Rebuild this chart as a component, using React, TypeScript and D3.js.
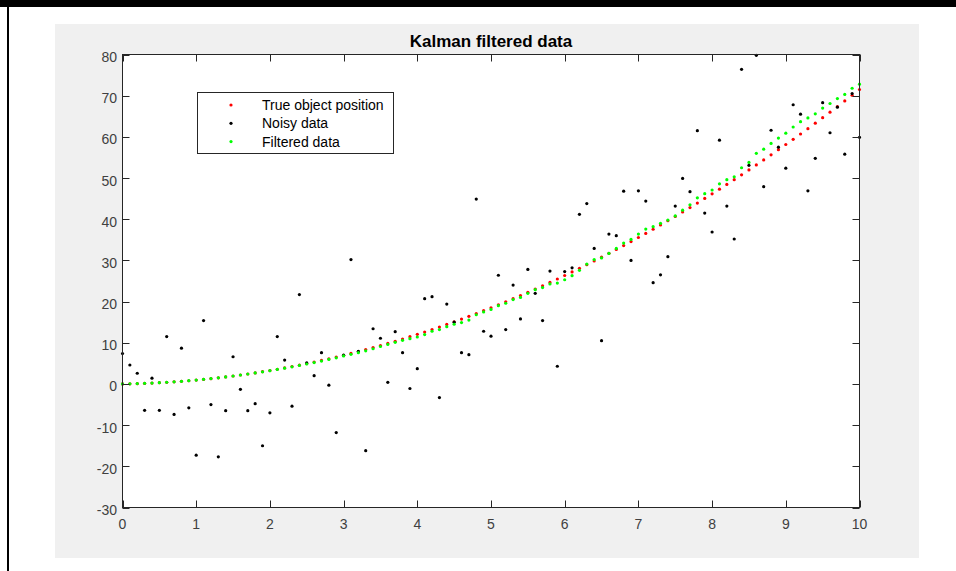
import * as d3 from 'd3'

// sample times (s)
const timeSteps = [
  0, 0.1, 0.2, 0.3, 0.4, 0.5, 0.6, 0.7, 0.8, 0.9,
  1, 1.1, 1.2, 1.3, 1.4, 1.5, 1.6, 1.7, 1.8, 1.9,
  2, 2.1, 2.2, 2.3, 2.4, 2.5, 2.6, 2.7, 2.8, 2.9,
  3, 3.1, 3.2, 3.3, 3.4, 3.5, 3.6, 3.7, 3.8, 3.9,
  4, 4.1, 4.2, 4.3, 4.4, 4.5, 4.6, 4.7, 4.8, 4.9,
  5, 5.1, 5.2, 5.3, 5.4, 5.5, 5.6, 5.7, 5.8, 5.9,
  6, 6.1, 6.2, 6.3, 6.4, 6.5, 6.6, 6.7, 6.8, 6.9,
  7, 7.1, 7.2, 7.3, 7.4, 7.5, 7.6, 7.7, 7.8, 7.9,
  8, 8.1, 8.2, 8.3, 8.4, 8.5, 8.6, 8.7, 8.8, 8.9,
  9, 9.1, 9.2, 9.3, 9.4, 9.5, 9.6, 9.7, 9.8, 9.9,
  10,
]

const truePosition = [
  0, 0.03, 0.08, 0.14, 0.21, 0.3, 0.4, 0.51, 0.64, 0.78,
  0.94, 1.11, 1.29, 1.49, 1.7, 1.93, 2.17, 2.42, 2.69, 2.97,
  3.26, 3.57, 3.89, 4.23, 4.57, 4.94, 5.31, 5.71, 6.11, 6.53,
  6.96, 7.41, 7.87, 8.34, 8.83, 9.33, 9.84, 10.37, 10.91, 11.47,
  12.04, 12.62, 13.22, 13.83, 14.46, 15.1, 15.75, 16.42, 17.1, 17.79,
  18.5, 19.22, 19.96, 20.71, 21.47, 22.25, 23.04, 23.84, 24.66, 25.49,
  26.34, 27.2, 28.07, 28.96, 29.86, 30.78, 31.71, 32.65, 33.61, 34.58,
  35.56, 36.56, 37.57, 38.6, 39.63, 40.69, 41.75, 42.84, 43.93, 45.04,
  46.16, 47.3, 48.45, 49.61, 50.79, 51.98, 53.18, 54.4, 55.63, 56.88,
  58.14, 59.41, 60.7, 62.0, 63.32, 64.65, 65.99, 67.35, 68.72, 70.1,
  71.5,
]

const noisyData = [
  7.4, 4.6, 2.6, -6.4, 1.4, -6.4, 11.5, -7.4, 8.7, -5.8,
  -17.3, 15.4, -5.0, -17.7, -6.5, 6.6, -1.3, -6.5, -4.8, -15.0,
  -7.0, 11.5, 5.8, -5.4, 21.7, 5.1, 2.0, 7.6, -0.3, -11.8,
  7.0, 30.2, 7.9, -16.2, 13.4, 11.1, 0.4, 12.7, 7.6, -1.1,
  3.7, 20.7, 21.2, -3.3, 19.4, 15.0, 7.6, 7.1, 44.9, 12.8,
  11.6, 26.4, 13.2, 24.0, 15.8, 27.8, 22.0, 15.4, 27.4, 4.3,
  27.3, 28.2, 41.2, 43.8, 32.9, 10.5, 36.4, 36.0, 46.8, 30.0,
  46.9, 44.4, 24.6, 26.5, 30.9, 43.2, 49.9, 46.7, 61.5, 41.5,
  36.9, 59.2, 43.2, 35.2, 76.4, 53.1, 79.8, 47.9, 61.6, 57.5,
  52.4, 67.8, 65.5, 46.9, 54.8, 68.3, 61.0, 67.2, 55.8, 70.5,
  59.9,
]

const filteredData = [
  0, 0.04, 0.09, 0.15, 0.22, 0.31, 0.41, 0.52, 0.65, 0.79,
  0.95, 1.12, 1.3, 1.5, 1.71, 1.93, 2.17, 2.42, 2.68, 2.95,
  3.23, 3.53, 3.84, 4.16, 4.49, 4.84, 5.2, 5.55, 5.95, 6.35,
  6.8, 7.2, 7.6, 8.05, 8.55, 9.1, 9.6, 10.1, 10.6, 11.0,
  11.4, 12.0, 12.8, 13.2, 13.9, 14.5, 14.9, 15.5, 16.8, 17.5,
  18.1, 19.0, 19.6, 20.5, 21.0, 22.0, 22.9, 23.4, 24.3, 24.5,
  25.3, 26.3, 27.6, 29.1, 30.2, 30.6, 31.7, 32.9, 34.2, 35.1,
  36.4, 37.6, 38.2, 39.0, 39.8, 40.8, 42.2, 43.5, 45.2, 46.2,
  47.1, 48.6, 49.6, 50.3, 52.5, 53.8, 56.0, 57.0, 58.4, 59.7,
  60.9, 62.4, 63.7, 64.6, 65.6, 67.0, 68.1, 69.3, 70.3, 71.8,
  72.8,
]

const xTicks = [0, 1, 2, 3, 4, 5, 6, 7, 8, 9, 10]
const yTicks = [-30, -20, -10, 0, 10, 20, 30, 40, 50, 60, 70, 80]

const legendItems = [
  { label: 'True object position', color: '#ff0000' },
  { label: 'Noisy data', color: '#000000' },
  { label: 'Filtered data', color: '#00ff00' },
]

const chartTitle = 'Kalman filtered data'

const width = 956
const height = 571
const plot = { left: 122.5, right: 859.5, top: 54.5, bottom: 507.5 }
const axisColor = '#262626'
const font = 'Arial, "Liberation Sans", Helvetica, sans-serif'

export default function App() {
  const xScale = d3.scaleLinear().domain([0, 10]).range([plot.left, plot.right])
  const yScale = d3.scaleLinear().domain([-30, 80]).range([plot.bottom, plot.top])

  const series = [
    { values: truePosition, color: '#ff0000' },
    { values: noisyData, color: '#000000' },
    { values: filteredData, color: '#00ff00' },
  ]

  const tickLen = 7

  return (
    <svg
      width={width}
      height={height}
      style={{ position: 'fixed', left: 0, top: 0, background: '#fff' }}
      fontFamily={font}
    >
      <rect x={0} y={0} width={width} height={height} fill="#fff" />
      {/* figure frame */}
      <rect x={0} y={0} width={width} height={7} fill="#000" />
      <rect x={7} y={0} width={2} height={height} fill="#000" />
      <rect x={55} y={24} width={864} height={534} fill="#f0f0f0" />

      {/* axes background */}
      <rect
        x={plot.left}
        y={plot.top}
        width={plot.right - plot.left}
        height={plot.bottom - plot.top}
        fill="#fff"
      />

      {/* data */}
      <g clipPath="url(#plot-clip)">
        {series.map((s, si) => (
          <g key={si} fill={s.color}>
            {s.values.map((v, i) => (
              <circle key={i} cx={xScale(timeSteps[i])} cy={yScale(v)} r={1.6} />
            ))}
          </g>
        ))}
      </g>
      <defs>
        <clipPath id="plot-clip">
          <rect x={plot.left - 2} y={plot.top - 2} width={plot.right - plot.left + 4} height={plot.bottom - plot.top + 4} />
        </clipPath>
      </defs>

      {/* ticks */}
      <g stroke={axisColor} strokeWidth={1}>
        {xTicks.map((t) => {
          const x = Math.round(xScale(t)) + 0.5
          return (
            <g key={t}>
              <line x1={x} x2={x} y1={plot.bottom} y2={plot.bottom - tickLen} />
              <line x1={x} x2={x} y1={plot.top} y2={plot.top + tickLen} />
            </g>
          )
        })}
        {yTicks.map((t) => {
          const y = Math.round(yScale(t)) + 0.5
          return (
            <g key={t}>
              <line x1={plot.left} x2={plot.left + tickLen} y1={y} y2={y} />
              <line x1={plot.right} x2={plot.right - tickLen} y1={y} y2={y} />
            </g>
          )
        })}
      </g>
      <rect
        x={plot.left}
        y={plot.top}
        width={plot.right - plot.left}
        height={plot.bottom - plot.top}
        fill="none"
        stroke={axisColor}
        strokeWidth={1}
      />

      {/* tick labels */}
      <g fontSize={14} fill="#404040">
        {xTicks.map((t) => (
          <text key={t} x={xScale(t)} y={529} textAnchor="middle">
            {t}
          </text>
        ))}
        {yTicks.map((t) => (
          <text key={t} x={117} y={yScale(t) + 7.5} textAnchor="end">
            {t}
          </text>
        ))}
      </g>

      {/* title */}
      <text
        x={(plot.left + plot.right) / 2}
        y={47}
        textAnchor="middle"
        fontSize={17}
        fontWeight="bold"
        fill="#000"
      >
        {chartTitle}
      </text>

      {/* legend */}
      <g>
        <rect x={197.5} y={92.5} width={196} height={61} fill="#fff" stroke={axisColor} strokeWidth={1} />
        {legendItems.map((d, i) => {
          const cy = 105 + i * 18.3
          return (
            <g key={d.label}>
              <circle cx={231} cy={cy} r={1.6} fill={d.color} />
              <text x={262} y={cy + 5} fontSize={14} fill="#000">
                {d.label}
              </text>
            </g>
          )
        })}
      </g>
    </svg>
  )
}
